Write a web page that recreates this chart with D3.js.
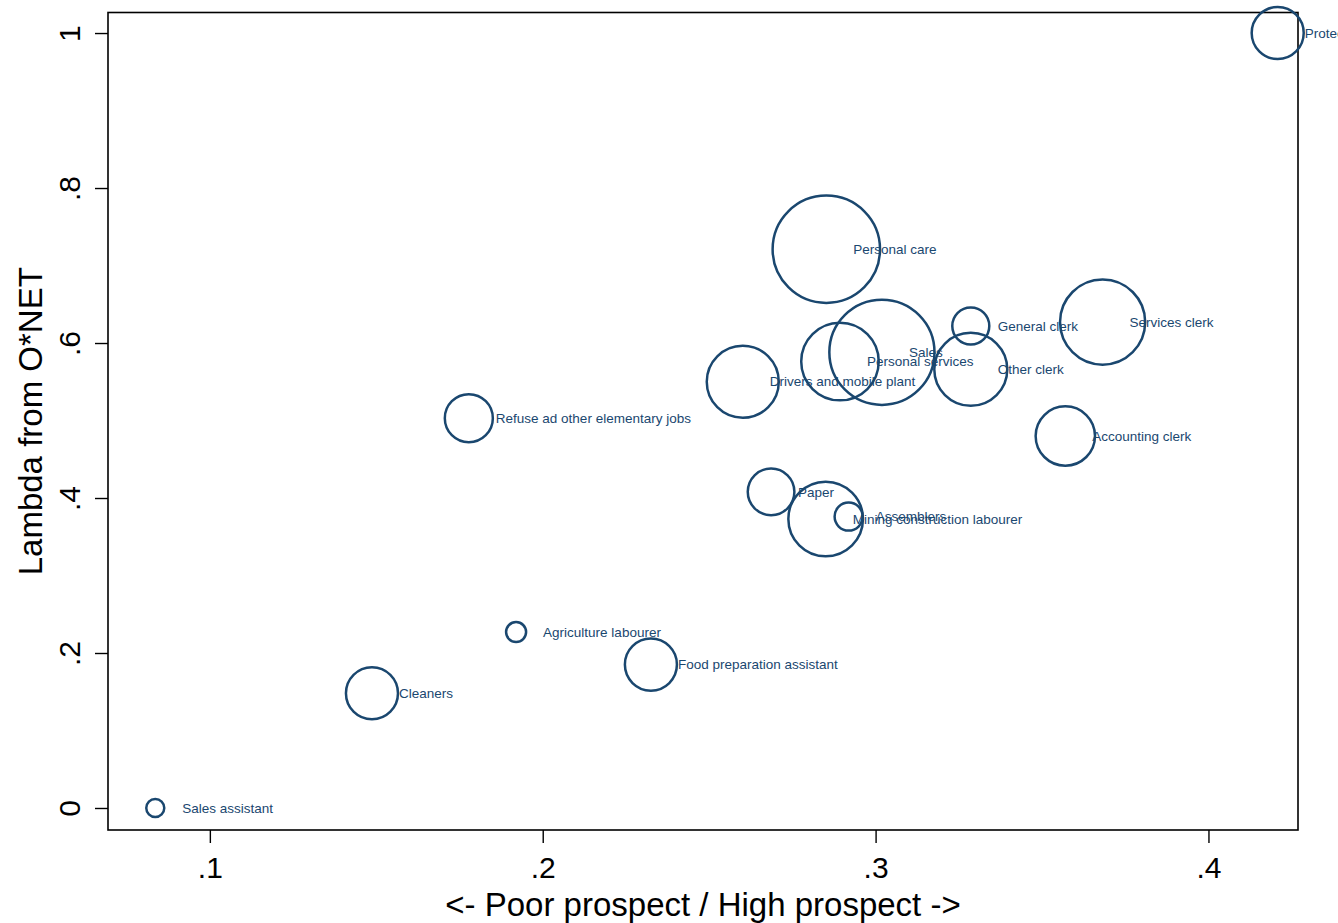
<!DOCTYPE html>
<html>
<head>
<meta charset="utf-8">
<script src="https://cdn.jsdelivr.net/npm/d3@7"></script>
<style>
  html, body { margin: 0; padding: 0; background: #fff; overflow: hidden; }
  svg { display: block; font-family: "Liberation Sans", Arial, Helvetica, sans-serif; }
</style>
</head>
<body>
<div id="viz"></div>
<script>
// Occupations: prospect score (x), lambda from O*NET (y), bubble weight.
const OCCUPATIONS = [
  "Sales assistant", "Cleaners", "Agriculture labourer", "Food preparation assistant",
  "Refuse ad other elementary jobs", "Drivers and mobile plant", "Personal services", "Sales",
  "Personal care", "General clerk", "Other clerk", "Services clerk",
  "Accounting clerk", "Paper", "Mining construction labourer", "Assemblers",
  "Protective services"
];
const PROSPECT = [
  0.0836, 0.1487, 0.1920, 0.2325,
  0.1778, 0.2601, 0.2893, 0.3019,
  0.2852, 0.3286, 0.3286, 0.3682,
  0.3570, 0.2686, 0.2850, 0.2919,
  0.4208
];
const LAMBDA = [
  0.000, 0.148, 0.227, 0.185,
  0.503, 0.550, 0.576, 0.588,
  0.721, 0.622, 0.566, 0.627,
  0.480, 0.408, 0.373, 0.376,
  1.000
];
const WEIGHT = [
  0.81, 6.76, 1.00, 6.76,
  5.76, 12.96, 15.0, 27.6,
  28.8, 3.42, 13.3, 18.1,
  8.8, 5.43, 13.9, 1.96,
  6.76
];
const X_TICKS = [0.1, 0.2, 0.3, 0.4];
const Y_TICKS = [0, 0.2, 0.4, 0.6, 0.8, 1];

const W = 1338, H = 923;
const plot = { left: 108, right: 1298, top: 12.5, bottom: 830 };
const navy = "#1a476f";

const svg = d3.select("#viz").append("svg")
  .attr("width", W)
  .attr("height", H);

const x = d3.scaleLinear().domain([0.0694, 0.4269]).range([plot.left, plot.right]);
const y = d3.scaleLinear().domain([-0.0284, 1.0265]).range([plot.bottom, plot.top]);
const r = d3.scaleSqrt().domain([0, d3.max(WEIGHT)]).range([0, 53.7]);

const fmt = d => (d === 0 ? "0" : d === 1 ? "1" : d3.format(".1f")(d).replace(/^0/, ""));

// x axis
const xAxis = svg.append("g")
  .attr("transform", `translate(0,${plot.bottom})`)
  .call(d3.axisBottom(x).tickValues(X_TICKS).tickFormat(fmt).tickSize(13).tickPadding(14));
xAxis.select(".domain").remove();
xAxis.selectAll(".tick line").attr("stroke", "#000").attr("stroke-width", 1.4);
xAxis.selectAll(".tick text")
  .attr("fill", "#000")
  .style("font-size", "30px");

// y axis, labels rotated like Stata
const yAxis = svg.append("g")
  .attr("transform", `translate(${plot.left},0)`)
  .call(d3.axisLeft(y).tickValues(Y_TICKS).tickFormat(fmt).tickSize(13));
yAxis.select(".domain").remove();
yAxis.selectAll(".tick line").attr("stroke", "#000").attr("stroke-width", 1.4);
yAxis.selectAll(".tick text")
  .attr("x", null)
  .attr("dy", null)
  .attr("text-anchor", "middle")
  .attr("transform", "translate(-28,0) rotate(-90)")
  .attr("fill", "#000")
  .style("font-size", "30px");

// plot frame
svg.append("rect")
  .attr("x", plot.left)
  .attr("y", plot.top)
  .attr("width", plot.right - plot.left)
  .attr("height", plot.bottom - plot.top)
  .attr("fill", "none")
  .attr("stroke", "#000")
  .attr("stroke-width", 1.6);

const points = OCCUPATIONS.map((name, i) => ({
  name, px: PROSPECT[i], py: LAMBDA[i], w: WEIGHT[i]
}));

// hollow bubbles
svg.append("g")
  .selectAll("circle")
  .data(points)
  .join("circle")
  .attr("cx", d => x(d.px))
  .attr("cy", d => y(d.py))
  .attr("r", d => r(d.w))
  .attr("fill", "none")
  .attr("stroke", navy)
  .attr("stroke-width", 2.5);

// marker labels, fixed gap to the right of each centre
svg.append("g")
  .selectAll("text")
  .data(points)
  .join("text")
  .attr("x", d => x(d.px) + 27)
  .attr("y", d => y(d.py))
  .attr("dy", "0.35em")
  .attr("fill", navy)
  .style("font-size", "13.5px")
  .text(d => d.name);

// axis titles
svg.append("text")
  .attr("transform", `translate(42,${(plot.top + plot.bottom) / 2}) rotate(-90)`)
  .attr("text-anchor", "middle")
  .attr("fill", "#000")
  .style("font-size", "33px")
  .text("Lambda from O*NET");

svg.append("text")
  .attr("x", (plot.left + plot.right) / 2)
  .attr("y", 916)
  .attr("text-anchor", "middle")
  .attr("fill", "#000")
  .style("font-size", "33px")
  .text("<- Poor prospect / High prospect ->");
</script>
</body>
</html>
